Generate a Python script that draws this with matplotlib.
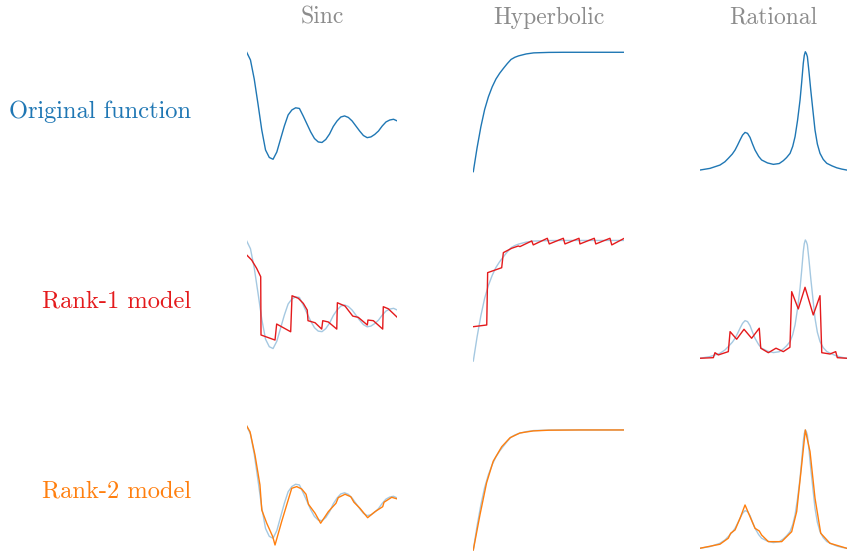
import numpy as np
import matplotlib
matplotlib.use("Agg")
import matplotlib.pyplot as plt

plt.rcParams["font.family"] = ["cmr10", "DejaVu Serif"]
plt.rcParams["axes.formatter.use_mathtext"] = True

BLUE = "#1f77b4"
RED = "#e41a1c"
ORANGE = "#ff7f0e"
GREY = "#8c8c8c"

col_titles = ["Sinc", "Hyperbolic", "Rational"]
row_labels = ["Original function", "Rank-1 model", "Rank-2 model"]
row_colors = [BLUE, RED, ORANGE]

# ---- sinc --------------------------------------------------------------
sinc_x = [0.0, 0.025, 0.05, 0.075, 0.1, 0.125, 0.15, 0.175, 0.2, 0.225, 0.25, 0.275,
          0.3, 0.325, 0.35, 0.375, 0.4, 0.425, 0.45, 0.475, 0.5, 0.525, 0.55, 0.575,
          0.6, 0.625, 0.65, 0.675, 0.7, 0.725, 0.75, 0.775, 0.8, 0.825, 0.85, 0.875,
          0.9, 0.925, 0.95, 0.975, 1.0]
sinc_y = [1.0, 0.928, 0.75, 0.517, 0.274, 0.087, 0.017, 0.0, 0.068, 0.19, 0.311, 0.414,
          0.461, 0.481, 0.475, 0.405, 0.33, 0.255, 0.194, 0.162, 0.157, 0.185, 0.236, 0.307,
          0.358, 0.395, 0.405, 0.391, 0.358, 0.311, 0.264, 0.222, 0.202, 0.209, 0.232, 0.264,
          0.311, 0.349, 0.367, 0.374, 0.358]
sinc_r1_x = [0, 0.033, 0.066, 0.093, 0.095, 0.188, 0.199, 0.292, 0.301, 0.343, 0.376, 0.402,
             0.407, 0.454, 0.498, 0.505, 0.542, 0.598, 0.602, 0.653, 0.704, 0.741, 0.801,
             0.805, 0.841, 0.903, 0.907, 0.94, 1.0]
sinc_r1_y = [0.87, 0.823, 0.746, 0.668, 0.126, 0.079, 0.228, 0.156, 0.491, 0.467, 0.42, 0.358,
             0.259, 0.24, 0.181, 0.259, 0.247, 0.181, 0.426, 0.395, 0.302, 0.29, 0.219,
             0.265, 0.259, 0.181, 0.389, 0.37, 0.29]
sinc_r2_x = [0, 0.022, 0.055, 0.088, 0.1, 0.133, 0.173, 0.188, 0.232, 0.299, 0.332, 0.365,
             0.394, 0.41, 0.454, 0.491, 0.542, 0.593, 0.608, 0.653, 0.691, 0.712, 0.752,
             0.803, 0.852, 0.903, 0.912, 0.963, 1.0]
sinc_r2_y = [1.0, 0.949, 0.742, 0.475, 0.252, 0.134, 0.014, -0.06, 0.148, 0.445, 0.46, 0.439,
             0.392, 0.303, 0.223, 0.134, 0.237, 0.312, 0.362, 0.392, 0.37, 0.321, 0.267,
             0.183, 0.237, 0.281, 0.321, 0.365, 0.35]

# ---- hyperbolic --------------------------------------------------------
hyp_x = [0.0, 0.025, 0.05, 0.075, 0.1, 0.125, 0.15, 0.175, 0.2, 0.225, 0.25, 0.275,
         0.3, 0.35, 0.4, 0.5, 0.6, 0.7, 0.8, 0.9, 1.0]
hyp_y = [0.0, 0.2, 0.375, 0.52, 0.627, 0.71, 0.776, 0.825, 0.866, 0.905, 0.94, 0.958,
         0.97, 0.986, 0.995, 0.999, 1.0, 1.0, 1.0, 1.0, 1.0]
hyp_r1_x = [0, 0.089, 0.095, 0.188, 0.199, 0.254, 0.298, 0.309, 0.387, 0.397, 0.49, 0.503,
            0.596, 0.607, 0.7, 0.706, 0.801, 0.811, 0.905, 0.917, 1.0]
hyp_r1_y = [0.285, 0.299, 0.733, 0.774, 0.899, 0.935, 0.954, 0.949, 0.996, 0.963, 1.018,
            0.971, 1.018, 0.971, 1.018, 0.971, 1.018, 0.971, 1.018, 0.963, 1.018]
hyp_r2_x = [0, 0.044, 0.088, 0.132, 0.188, 0.243, 0.309, 0.397, 0.5, 0.7, 1.0]
hyp_r2_y = [0.0, 0.292, 0.56, 0.74, 0.86, 0.935, 0.975, 0.992, 0.998, 1.0, 1.0]

# ---- rational ----------------------------------------------------------
rat_x = [0, 0.068, 0.136, 0.17, 0.193, 0.22, 0.239, 0.256, 0.273, 0.29, 0.307, 0.324,
         0.341, 0.358, 0.375, 0.4, 0.42, 0.46, 0.5, 0.54, 0.568, 0.59, 0.614, 0.632,
         0.648, 0.665, 0.682, 0.693, 0.704, 0.711, 0.718, 0.725, 0.732, 0.743, 0.755,
         0.77, 0.784, 0.8, 0.818, 0.84, 0.864, 0.9, 0.932, 0.966, 1.0]
rat_y = [0, 0.014, 0.042, 0.07, 0.099, 0.135, 0.169, 0.21, 0.254, 0.295, 0.318, 0.31,
         0.276, 0.22, 0.169, 0.115, 0.085, 0.06, 0.048, 0.055, 0.079, 0.105, 0.141, 0.2,
         0.282, 0.42, 0.592, 0.74, 0.902, 0.97, 1.0, 0.985, 0.958, 0.83, 0.676,
         0.5, 0.338, 0.22, 0.141, 0.09, 0.057, 0.035, 0.019, 0.008, 0.0]
rat_r1_x = [0, 0.091, 0.102, 0.125, 0.193, 0.205, 0.25, 0.3, 0.352, 0.404, 0.414, 0.466,
            0.518, 0.568, 0.613, 0.625, 0.67, 0.716, 0.772, 0.818, 0.83, 0.886, 0.925,
            0.936, 1.0]
rat_r1_y = [0, 0.005, 0.047, 0.028, 0.056, 0.225, 0.161, 0.245, 0.169, 0.254, 0.085, 0.047,
            0.085, 0.056, 0.093, 0.563, 0.417, 0.6, 0.366, 0.529, 0.047, 0.036, 0.056,
            0.005, 0.0]
rat_r2_x = [0, 0.136, 0.193, 0.209, 0.239, 0.273, 0.307, 0.341, 0.375, 0.404, 0.42, 0.466,
            0.557, 0.625, 0.659, 0.693, 0.718, 0.75, 0.784, 0.823, 0.886, 1.0]
rat_r2_y = [0, 0.034, 0.085, 0.127, 0.155, 0.254, 0.366, 0.267, 0.169, 0.146, 0.112, 0.056,
            0.056, 0.14, 0.31, 0.704, 1.0, 0.817, 0.423, 0.127, 0.042, 0.0]

originals = [(sinc_x, sinc_y), (hyp_x, hyp_y), (rat_x, rat_y)]
rank1 = [(sinc_r1_x, sinc_r1_y), (hyp_r1_x, hyp_r1_y), (rat_r1_x, rat_r1_y)]
rank2 = [(sinc_r2_x, sinc_r2_y), (hyp_r2_x, hyp_r2_y), (rat_r2_x, rat_r2_y)]

# y-limits per panel [row][col]
ylims = [[(-0.147, 1.068), (-0.028, 1.061), (-0.042, 1.057)],
         [(-0.141, 1.068), (-0.022, 1.056), (-0.046, 1.053)],
         [(-0.126, 1.032), (-0.020, 1.063), (-0.035, 1.064)]]

W, H = 847, 552
fig = plt.figure(figsize=(W / 100, H / 100), dpi=100)

col_left = [246.7, 473.3, 700.0]
col_width = [150.6, 151.0, 146.7]
row_top = [45.0, 233.7, 422.4]
box_h = 130.0

for r in range(3):
    for c in range(3):
        ax = fig.add_axes([col_left[c] / W, 1 - (row_top[r] + box_h) / H,
                           col_width[c] / W, box_h / H])
        ax.axis("off")
        ox, oy = originals[c]
        if r == 0:
            ax.plot(ox, oy, color=BLUE, lw=1.0)
        else:
            ax.plot(ox, oy, color=BLUE, lw=1.0, alpha=0.4)
            mx, my = (rank1 if r == 1 else rank2)[c]
            ax.plot(mx, my, color=RED if r == 1 else ORANGE, lw=1.0)
        ax.set_xlim(0, 1)
        ax.set_ylim(*ylims[r][c])

for c, t in enumerate(col_titles):
    fig.text((col_left[c] + col_width[c] / 2) / W, 1 - 17.5 / H, t, color=GREY,
             fontsize=17, ha="center", va="center")

for r, (lab, colr) in enumerate(zip(row_labels, row_colors)):
    fig.text(191 / W, 1 - (112 + 189.7 * r) / H, lab, color=colr,
             fontsize=17.6, ha="right", va="center")

fig.savefig("out.png", dpi=100)
